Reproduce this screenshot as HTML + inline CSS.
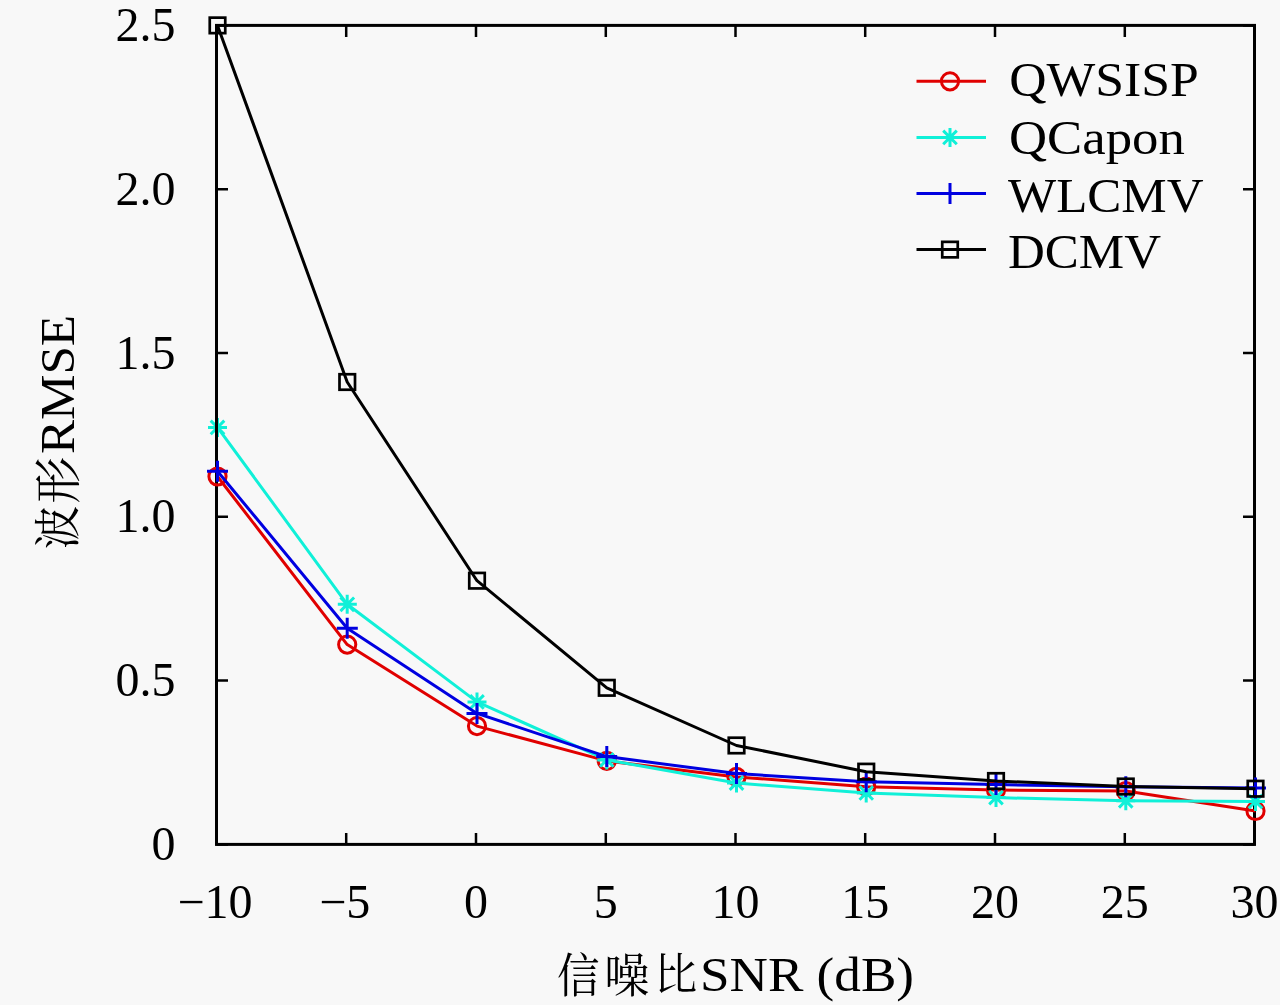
<!DOCTYPE html>
<html><head><meta charset="utf-8"><style>
html,body{margin:0;padding:0;background:#f8f8f8;}
svg{display:block;}
.t{font-family:"Liberation Serif","Noto Serif CJK SC",serif;font-size:48px;fill:#000;}
.c{font-family:"Noto Serif CJK SC",serif;font-size:49.5px;fill:#000;}
</style></head><body>
<svg width="1280" height="1005" viewBox="0 0 1280 1005">
<rect width="1280" height="1005" fill="#f8f8f8"/>
<path d="M216.5 844.4V832.9M216.5 25.4V36.9M346.2 844.4V832.9M346.2 25.4V36.9M476.0 844.4V832.9M476.0 25.4V36.9M605.8 844.4V832.9M605.8 25.4V36.9M735.5 844.4V832.9M735.5 25.4V36.9M865.2 844.4V832.9M865.2 25.4V36.9M995.0 844.4V832.9M995.0 25.4V36.9M1124.8 844.4V832.9M1124.8 25.4V36.9M1254.5 844.4V832.9M1254.5 25.4V36.9M216.5 844.4H228.0M1254.5 844.4H1243.0M216.5 680.6H228.0M1254.5 680.6H1243.0M216.5 516.8H228.0M1254.5 516.8H1243.0M216.5 353.0H228.0M1254.5 353.0H1243.0M216.5 189.2H228.0M1254.5 189.2H1243.0M216.5 25.4H228.0M1254.5 25.4H1243.0" stroke="#000" stroke-width="2.5" fill="none"/>
<rect x="216.5" y="25.4" width="1038.0" height="819.0" fill="none" stroke="#000" stroke-width="3"/>
<polyline points="217.5,476.5 347.2,644.6 477.0,726.1 606.8,760.9 736.5,776.9 866.2,786.7 996.0,790.0 1125.8,791.0 1255.5,811.0" fill="none" stroke="#e00000" stroke-width="3.0" stroke-linejoin="round"/>
<circle cx="217.5" cy="476.5" r="8.6" fill="none" stroke="#e00000" stroke-width="3.0"/>
<circle cx="347.2" cy="644.6" r="8.6" fill="none" stroke="#e00000" stroke-width="3.0"/>
<circle cx="477.0" cy="726.1" r="8.6" fill="none" stroke="#e00000" stroke-width="3.0"/>
<circle cx="606.8" cy="760.9" r="8.6" fill="none" stroke="#e00000" stroke-width="3.0"/>
<circle cx="736.5" cy="776.9" r="8.6" fill="none" stroke="#e00000" stroke-width="3.0"/>
<circle cx="866.2" cy="786.7" r="8.6" fill="none" stroke="#e00000" stroke-width="3.0"/>
<circle cx="996.0" cy="790.0" r="8.6" fill="none" stroke="#e00000" stroke-width="3.0"/>
<circle cx="1125.8" cy="791.0" r="8.6" fill="none" stroke="#e00000" stroke-width="3.0"/>
<circle cx="1255.5" cy="811.0" r="8.6" fill="none" stroke="#e00000" stroke-width="3.0"/>
<polyline points="217.5,427.4 347.2,604.3 477.0,701.9 606.8,759.9 736.5,783.1 866.2,793.0 996.0,797.6 1125.8,800.8 1255.5,801.5" fill="none" stroke="#10f0d8" stroke-width="3.0" stroke-linejoin="round"/>
<path d="M208.0 427.4H227.0M217.5 417.9V436.9M210.7 420.6L224.3 434.2M210.7 434.2L224.3 420.6" stroke="#10f0d8" stroke-width="3.0" fill="none"/>
<path d="M337.8 604.3H356.8M347.2 594.8V613.8M340.4 597.5L354.1 611.1M340.4 611.1L354.1 597.5" stroke="#10f0d8" stroke-width="3.0" fill="none"/>
<path d="M467.5 701.9H486.5M477.0 692.4V711.4M470.2 695.1L483.8 708.7M470.2 708.7L483.8 695.1" stroke="#10f0d8" stroke-width="3.0" fill="none"/>
<path d="M597.2 759.9H616.2M606.8 750.4V769.4M600.0 753.1L613.5 766.7M600.0 766.7L613.5 753.1" stroke="#10f0d8" stroke-width="3.0" fill="none"/>
<path d="M727.0 783.1H746.0M736.5 773.6V792.6M729.7 776.3L743.3 789.9M729.7 789.9L743.3 776.3" stroke="#10f0d8" stroke-width="3.0" fill="none"/>
<path d="M856.8 793.0H875.8M866.2 783.5V802.5M859.5 786.2L873.0 799.8M859.5 799.8L873.0 786.2" stroke="#10f0d8" stroke-width="3.0" fill="none"/>
<path d="M986.5 797.6H1005.5M996.0 788.1V807.1M989.2 790.8L1002.8 804.4M989.2 804.4L1002.8 790.8" stroke="#10f0d8" stroke-width="3.0" fill="none"/>
<path d="M1116.2 800.8H1135.2M1125.8 791.3V810.3M1119.0 794.0L1132.5 807.6M1119.0 807.6L1132.5 794.0" stroke="#10f0d8" stroke-width="3.0" fill="none"/>
<path d="M1246.0 801.5H1265.0M1255.5 792.0V811.0M1248.7 794.7L1262.3 808.3M1248.7 808.3L1262.3 794.7" stroke="#10f0d8" stroke-width="3.0" fill="none"/>
<polyline points="217.5,471.3 347.2,628.2 477.0,713.4 606.8,756.6 736.5,773.6 866.2,781.8 996.0,784.6 1125.8,786.7 1255.5,788.1" fill="none" stroke="#0000e0" stroke-width="3.0" stroke-linejoin="round"/>
<path d="M207.0 471.3H228.0M217.5 460.8V481.8" stroke="#0000e0" stroke-width="3.0" fill="none"/>
<path d="M336.8 628.2H357.8M347.2 617.7V638.7" stroke="#0000e0" stroke-width="3.0" fill="none"/>
<path d="M466.5 713.4H487.5M477.0 702.9V723.9" stroke="#0000e0" stroke-width="3.0" fill="none"/>
<path d="M596.2 756.6H617.2M606.8 746.1V767.1" stroke="#0000e0" stroke-width="3.0" fill="none"/>
<path d="M726.0 773.6H747.0M736.5 763.1V784.1" stroke="#0000e0" stroke-width="3.0" fill="none"/>
<path d="M855.8 781.8H876.8M866.2 771.3V792.3" stroke="#0000e0" stroke-width="3.0" fill="none"/>
<path d="M985.5 784.6H1006.5M996.0 774.1V795.1" stroke="#0000e0" stroke-width="3.0" fill="none"/>
<path d="M1115.2 786.7H1136.2M1125.8 776.2V797.2" stroke="#0000e0" stroke-width="3.0" fill="none"/>
<path d="M1245.0 788.1H1266.0M1255.5 777.6V798.6" stroke="#0000e0" stroke-width="3.0" fill="none"/>
<polyline points="217.5,25.4 347.2,382.0 477.0,580.7 606.8,687.8 736.5,745.5 866.2,771.7 996.0,781.0 1125.8,786.5 1255.5,788.7" fill="none" stroke="#000000" stroke-width="3.0" stroke-linejoin="round"/>
<rect x="209.75" y="17.65" width="15.5" height="15.5" fill="none" stroke="#000000" stroke-width="2.7"/>
<rect x="339.50" y="374.24" width="15.5" height="15.5" fill="none" stroke="#000000" stroke-width="2.7"/>
<rect x="469.25" y="572.93" width="15.5" height="15.5" fill="none" stroke="#000000" stroke-width="2.7"/>
<rect x="599.00" y="680.06" width="15.5" height="15.5" fill="none" stroke="#000000" stroke-width="2.7"/>
<rect x="728.75" y="737.71" width="15.5" height="15.5" fill="none" stroke="#000000" stroke-width="2.7"/>
<rect x="858.50" y="763.92" width="15.5" height="15.5" fill="none" stroke="#000000" stroke-width="2.7"/>
<rect x="988.25" y="773.26" width="15.5" height="15.5" fill="none" stroke="#000000" stroke-width="2.7"/>
<rect x="1118.00" y="778.76" width="15.5" height="15.5" fill="none" stroke="#000000" stroke-width="2.7"/>
<rect x="1247.75" y="780.96" width="15.5" height="15.5" fill="none" stroke="#000000" stroke-width="2.7"/>
<path d="M216.5 415.4V439.4" stroke="#000" stroke-width="3"/>
<path d="M916.5 81.3H986" stroke="#e00000" stroke-width="3.0"/>
<circle cx="950.0" cy="81.3" r="8.6" fill="none" stroke="#e00000" stroke-width="3.0"/>
<text x="1009.2" y="95.8" class="t" textLength="189.5" lengthAdjust="spacingAndGlyphs">QWSISP</text>
<path d="M916.5 137.4H986" stroke="#10f0d8" stroke-width="3.0"/>
<path d="M940.5 137.4H959.5M950.0 127.9V146.9M943.2 130.6L956.8 144.2M943.2 144.2L956.8 130.6" stroke="#10f0d8" stroke-width="3.0" fill="none"/>
<text x="1009.0" y="153.8" class="t" textLength="175.8" lengthAdjust="spacingAndGlyphs">QCapon</text>
<path d="M916.5 193.5H986" stroke="#0000e0" stroke-width="3.0"/>
<path d="M939.5 193.5H960.5M950.0 183.0V204.0" stroke="#0000e0" stroke-width="3.0" fill="none"/>
<text x="1008.0" y="211.5" class="t" textLength="195.6" lengthAdjust="spacingAndGlyphs">WLCMV</text>
<path d="M916.5 249.6H986" stroke="#000000" stroke-width="3.0"/>
<rect x="942.25" y="241.85" width="15.5" height="15.5" fill="none" stroke="#000000" stroke-width="2.7"/>
<text x="1008.0" y="268.3" class="t" textLength="153.0" lengthAdjust="spacingAndGlyphs">DCMV</text>
<text x="175.5" y="859.9" class="t" text-anchor="end">0</text>
<text x="175.5" y="696.1" class="t" text-anchor="end">0.5</text>
<text x="175.5" y="532.3" class="t" text-anchor="end">1.0</text>
<text x="175.5" y="368.5" class="t" text-anchor="end">1.5</text>
<text x="175.5" y="204.7" class="t" text-anchor="end">2.0</text>
<text x="175.5" y="40.9" class="t" text-anchor="end">2.5</text>
<text x="215.0" y="918" class="t" text-anchor="middle">−10</text>
<text x="344.8" y="918" class="t" text-anchor="middle">−5</text>
<text x="476.0" y="918" class="t" text-anchor="middle">0</text>
<text x="605.8" y="918" class="t" text-anchor="middle">5</text>
<text x="735.5" y="918" class="t" text-anchor="middle">10</text>
<text x="865.2" y="918" class="t" text-anchor="middle">15</text>
<text x="995.0" y="918" class="t" text-anchor="middle">20</text>
<text x="1124.8" y="918" class="t" text-anchor="middle">25</text>
<text x="1254.5" y="918" class="t" text-anchor="middle">30</text>
<text transform="translate(557.11,992.08) scale(0.919,1)" class="c" style="font-size:46.45px">信</text>
<text transform="translate(604.19,992.09) scale(0.974,1)" class="c" style="font-size:46.37px">噪</text>
<text transform="translate(654.24,990.15) scale(0.980,1)" class="c" style="font-size:43.82px">比</text>
<text transform="translate(74.44,549.23) rotate(-90) scale(0.922,1)" class="c" style="font-size:46.99px">波</text>
<text transform="translate(75.29,503.65) rotate(-90) scale(0.997,1)" class="c" style="font-size:47.18px">形</text>
<text x="700" y="991" class="t" textLength="214" lengthAdjust="spacingAndGlyphs">SNR (dB)</text>
<g transform="translate(73.6,0) rotate(-90)"><text x="-454" y="0" class="t" textLength="139" lengthAdjust="spacingAndGlyphs">RMSE</text></g>
</svg>
</body></html>
